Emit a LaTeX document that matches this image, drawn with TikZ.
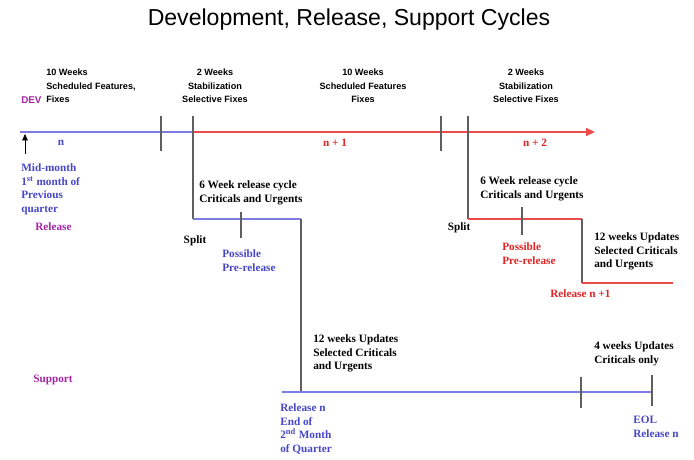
\documentclass[tikz,border=0pt]{standalone}
\usepackage{fontspec}
\setmainfont{Liberation Serif}
\setsansfont{Liberation Sans}
\usetikzlibrary{arrows.meta,positioning}
\definecolor{linblue}{RGB}{125,125,225}
\definecolor{txtblue}{RGB}{70,70,200}
\definecolor{linred}{RGB}{235,75,75}
\definecolor{txtred}{RGB}{225,35,35}
\definecolor{lblpurple}{RGB}{165,35,165}
\definecolor{tickgray}{RGB}{95,95,95}
\tikzset{
  phaselbl/.style={font=\sffamily\bfseries\fontsize{6.5}{9.6}\selectfont, inner sep=0pt},
  cyclenote/.style={font=\bfseries\fontsize{8}{9.9}\selectfont, align=left, inner sep=0pt},
  tracklbl/.style={font=\sffamily\bfseries\fontsize{7}{9}\selectfont, text=lblpurple, inner sep=0pt},
  blueline/.style={draw=linblue, line width=1pt},
  redline/.style={draw=linred, line width=1pt},
  tickline/.style={draw=tickgray, line width=0.9pt}
}

\begin{document}
\begin{tikzpicture}[x=0.025cm, y=-0.025cm]
    \useasboundingbox (0,0) rectangle (694,459);
    \node[font=\sffamily\fontsize{16.4}{19}\selectfont] (title) at (349,20) {Development, Release, Support Cycles};

    % phase headings
    \node[phaselbl, align=left, anchor=north west] (ph1) at (46,69) {10 Weeks\\Scheduled Features,\\Fixes};
    \node[phaselbl, align=center, anchor=north] (ph2) at (215,69) {2 Weeks\\Stabilization\\Selective Fixes};
    \node[phaselbl, align=center, anchor=north] (ph3) at (363,69) {10 Weeks\\Scheduled Features\\Fixes};
    \node[phaselbl, align=center, anchor=north] (ph4) at (526,69) {2 Weeks\\Stabilization\\Selective Fixes};
    \node[tracklbl, anchor=west] (dev) at (21,100) {DEV};

    % dev line
    \coordinate (devS) at (20,132);
    \coordinate (fork1) at (193,132);
    \coordinate (devE) at (595,132);
    \draw[blueline] (devS) -- (fork1);
    \draw[redline, -{Triangle[length=2.2mm, width=2mm]}] (fork1) -- (devE);
    \draw[-{Triangle[length=1.6mm, width=1.4mm]}, thin] (25,154) coordinate (upS) -- (25,134) coordinate (upE);
    \draw[tickline] (161,116) coordinate (t1a) -- (161,151) coordinate (t1b);
    \draw[tickline] (441,116) coordinate (t2a) -- (441,151) coordinate (t2b);
    \node[cyclenote, text=txtblue] (n0) at (61,143) {n};
    \node[cyclenote, text=txtred] (n1) at (335,143) {n + 1};
    \node[cyclenote, text=txtred] (n2) at (535,143) {n + 2};
    \node[cyclenote, text=txtblue, anchor=north west] (mid) at (21,163) {Mid-month\\1\textsuperscript{st} month of\\Previous\\quarter};
    \node[tracklbl, font=\bfseries\fontsize{8}{9}\selectfont, anchor=west] (rel) at (35,227) {Release};

    % release n
    \coordinate (br1a) at (193,116);
    \coordinate (br1b) at (193,219);
    \coordinate (br1c) at (301,219);
    \coordinate (br1d) at (301,392);
    \draw[tickline] (br1a) -- (br1b);
    \draw[blueline] (br1b) -- (br1c);
    \draw[tickline] (br1c) -- (br1d);
    \draw[tickline] (241,212) coordinate (p1a) -- (241,238) coordinate (p1b);
    \node[cyclenote, anchor=north west] (cyc1) at (199,180) {6 Week release cycle\\Criticals and Urgents};
    \node[cyclenote] (split1) at (195,241) {Split};
    \node[cyclenote, text=txtblue, anchor=north west] (pre1) at (222,249) {Possible\\Pre-release};

    % release n+1
    \coordinate (br2a) at (468,116);
    \coordinate (br2b) at (468,219);
    \coordinate (br2c) at (582,219);
    \coordinate (br2d) at (582,283);
    \coordinate (br2e) at (673,283);
    \draw[tickline] (br2a) -- (br2b);
    \draw[redline] (br2b) -- (br2c);
    \draw[tickline] (br2c) -- (br2d);
    \draw[redline] (br2d) -- (br2e);
    \draw[tickline] (522,207) coordinate (p2a) -- (522,235) coordinate (p2b);
    \node[cyclenote, anchor=north west] (cyc2) at (480,176) {6 Week release cycle\\Criticals and Urgents};
    \node[cyclenote] (split2) at (459,228) {Split};
    \node[cyclenote, text=txtred, anchor=north west] (pre2) at (502,242) {Possible\\Pre-release};
    \node[cyclenote, anchor=north west] (upd2) at (594,232) {12 weeks Updates\\Selected Criticals\\and Urgents};
    \node[cyclenote, text=txtred, anchor=west] (reln1) at (550,294) {Release n +1};

    % support line
    \coordinate (supS) at (282,392);
    \coordinate (supE) at (652,392);
    \draw[blueline] (supS) -- (supE);
    \draw[tickline] (581,377) coordinate (s1a) -- (581,408) coordinate (s1b);
    \draw[tickline] (652,375) coordinate (s2a) -- (652,406) coordinate (s2b);
    \node[tracklbl, font=\bfseries\fontsize{8}{9}\selectfont, anchor=west] (sup) at (33,380) {Support};
    \node[cyclenote, anchor=north west] (upd1) at (313,334) {12 weeks Updates\\Selected Criticals\\and Urgents};
    \node[cyclenote, anchor=north west] (upd3) at (594,341) {4 weeks Updates\\Criticals only};
    \node[cyclenote, text=txtblue, anchor=north west] (reln) at (280,403) {Release n\\End of\\2\textsuperscript{nd} Month\\of Quarter};
    \node[cyclenote, text=txtblue, anchor=north west] (eol) at (633,416) {EOL\\Release n};
  \end{tikzpicture}
\end{document}
